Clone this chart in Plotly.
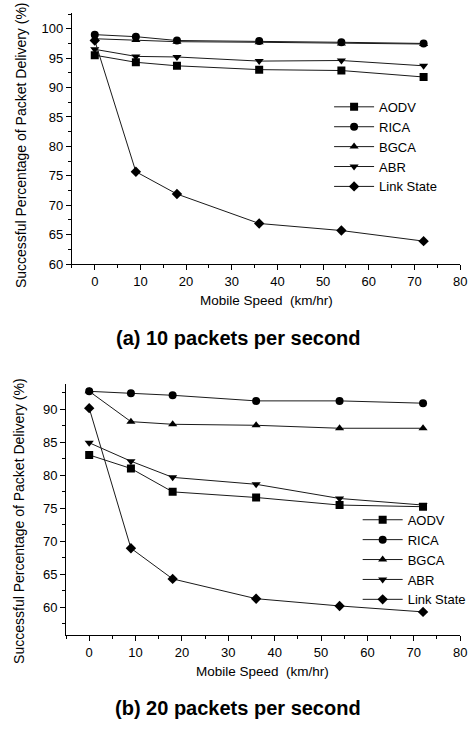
import plotly.graph_objects as go

speeds = [0, 9, 18, 36, 54, 72]
protocols = ["AODV", "RICA", "BGCA", "ABR", "Link State"]
symbols = ["square", "circle", "triangle-up", "triangle-down", "diamond"]

# (a) 10 packets per second
pdr_10 = {
    "AODV": [95.5, 94.3, 93.7, 93.05, 92.9, 91.8],
    "RICA": [99.0, 98.65, 98.0, 97.9, 97.7, 97.5],
    "BGCA": [98.3, 98.1, 97.8, 97.7, 97.5, 97.4],
    "ABR": [96.5, 95.3, 95.2, 94.5, 94.6, 93.7],
    "Link State": [98.0, 75.7, 71.9, 66.9, 65.7, 63.9],
}
# (b) 20 packets per second
pdr_20 = {
    "AODV": [83.1, 81.05, 77.5, 76.65, 75.5, 75.25],
    "RICA": [92.75, 92.45, 92.15, 91.3, 91.3, 90.95],
    "BGCA": [92.75, 88.15, 87.75, 87.6, 87.15, 87.15],
    "ABR": [84.95, 82.15, 79.7, 78.65, 76.5, 75.5],
    "Link State": [90.2, 68.95, 64.3, 61.3, 60.2, 59.3],
}

x_ticks = list(range(0, 81, 10))
y_ticks_a = list(range(60, 101, 5))
y_ticks_b = list(range(60, 91, 5))

W, H = 476, 729
FONT = "Liberation Sans, Arial, Helvetica, sans-serif"

fig = go.Figure()

for name, sym in zip(protocols, symbols):
    fig.add_trace(go.Scatter(
        x=speeds, y=pdr_10[name], name=name, mode="lines+markers",
        line=dict(color="#1a1a1a", width=1),
        marker=dict(symbol=sym, size=8, color="black"),
        xaxis="x", yaxis="y", legend="legend",
    ))
for name, sym in zip(protocols, symbols):
    fig.add_trace(go.Scatter(
        x=speeds, y=pdr_20[name], name=name, mode="lines+markers",
        line=dict(color="#1a1a1a", width=1),
        marker=dict(symbol=sym, size=8, color="black"),
        xaxis="x2", yaxis="y2", legend="legend2",
    ))

def px(x):
    return x / W

def py(y):
    return 1 - y / H

axis_common = dict(
    showgrid=False, zeroline=False, showline=True, linecolor="black", linewidth=1,
    ticks="outside", ticklen=5, tickcolor="black", tickwidth=1,
    tickfont=dict(family=FONT, size=13, color="black"),
    ticklabeloverflow="allow",
    minor=dict(ticks="outside", ticklen=3, tickcolor="black", tickwidth=1, showgrid=False),
)

fig.update_layout(
    width=W, height=H,
    margin=dict(l=0, r=0, t=0, b=0),
    paper_bgcolor="white", plot_bgcolor="white",
    font=dict(family=FONT, color="black"),
    xaxis=dict(domain=[px(73), px(467)], range=[-5, 80], tickvals=x_ticks,
               anchor="y", minor_dtick=5, **axis_common),
    yaxis=dict(domain=[py(267), py(13)], range=[60, 102.7], tickvals=y_ticks_a,
               anchor="x", minor_dtick=2.5, **axis_common),
    xaxis2=dict(domain=[px(67), px(467)], range=[-5, 80], tickvals=x_ticks,
                anchor="y2", minor_dtick=5, **axis_common),
    yaxis2=dict(domain=[py(642), py(388)], range=[55.8, 93.9], tickvals=y_ticks_b,
                anchor="x2", minor_dtick=2.5, minor_tick0=0, **axis_common),
    legend=dict(x=px(334), y=py(148.5), xanchor="left", yanchor="middle",
                bgcolor="rgba(0,0,0,0)", font=dict(family=FONT, size=13),
                tracegroupgap=0, itemwidth=40),
    legend2=dict(x=px(363), y=py(566), xanchor="left", yanchor="middle",
                 bgcolor="rgba(0,0,0,0)", font=dict(family=FONT, size=13),
                 tracegroupgap=0, itemwidth=40),
    showlegend=True,
)

def note(text, x, y, size, angle=0):
    return dict(text=text, textangle=angle, x=px(x), y=py(y), xref="paper", yref="paper",
                xanchor="center", yanchor="middle", showarrow=False,
                font=dict(family=FONT, size=size, color="black"))

ann = [
    note("Successful Percentage of Packet Delivery (%)", 22, 147, 14, -90),
    note("Successful Percentage of Packet Delivery (%)", 20, 527, 14, -90),
    note("Mobile Speed  (km/hr)", 270, 304, 13.5),
    note("Mobile Speed  (km/hr)", 266, 679, 13.5),
    note("<b>(a) 10 packets per second</b>", 242, 342, 20),
    note("<b>(b) 20 packets per second</b>", 242, 716, 20),
]
fig.update_layout(annotations=ann)

fig.write_html("out.html", config={"displayModeBar": False},
               post_script="document.body.style.margin='0';")
